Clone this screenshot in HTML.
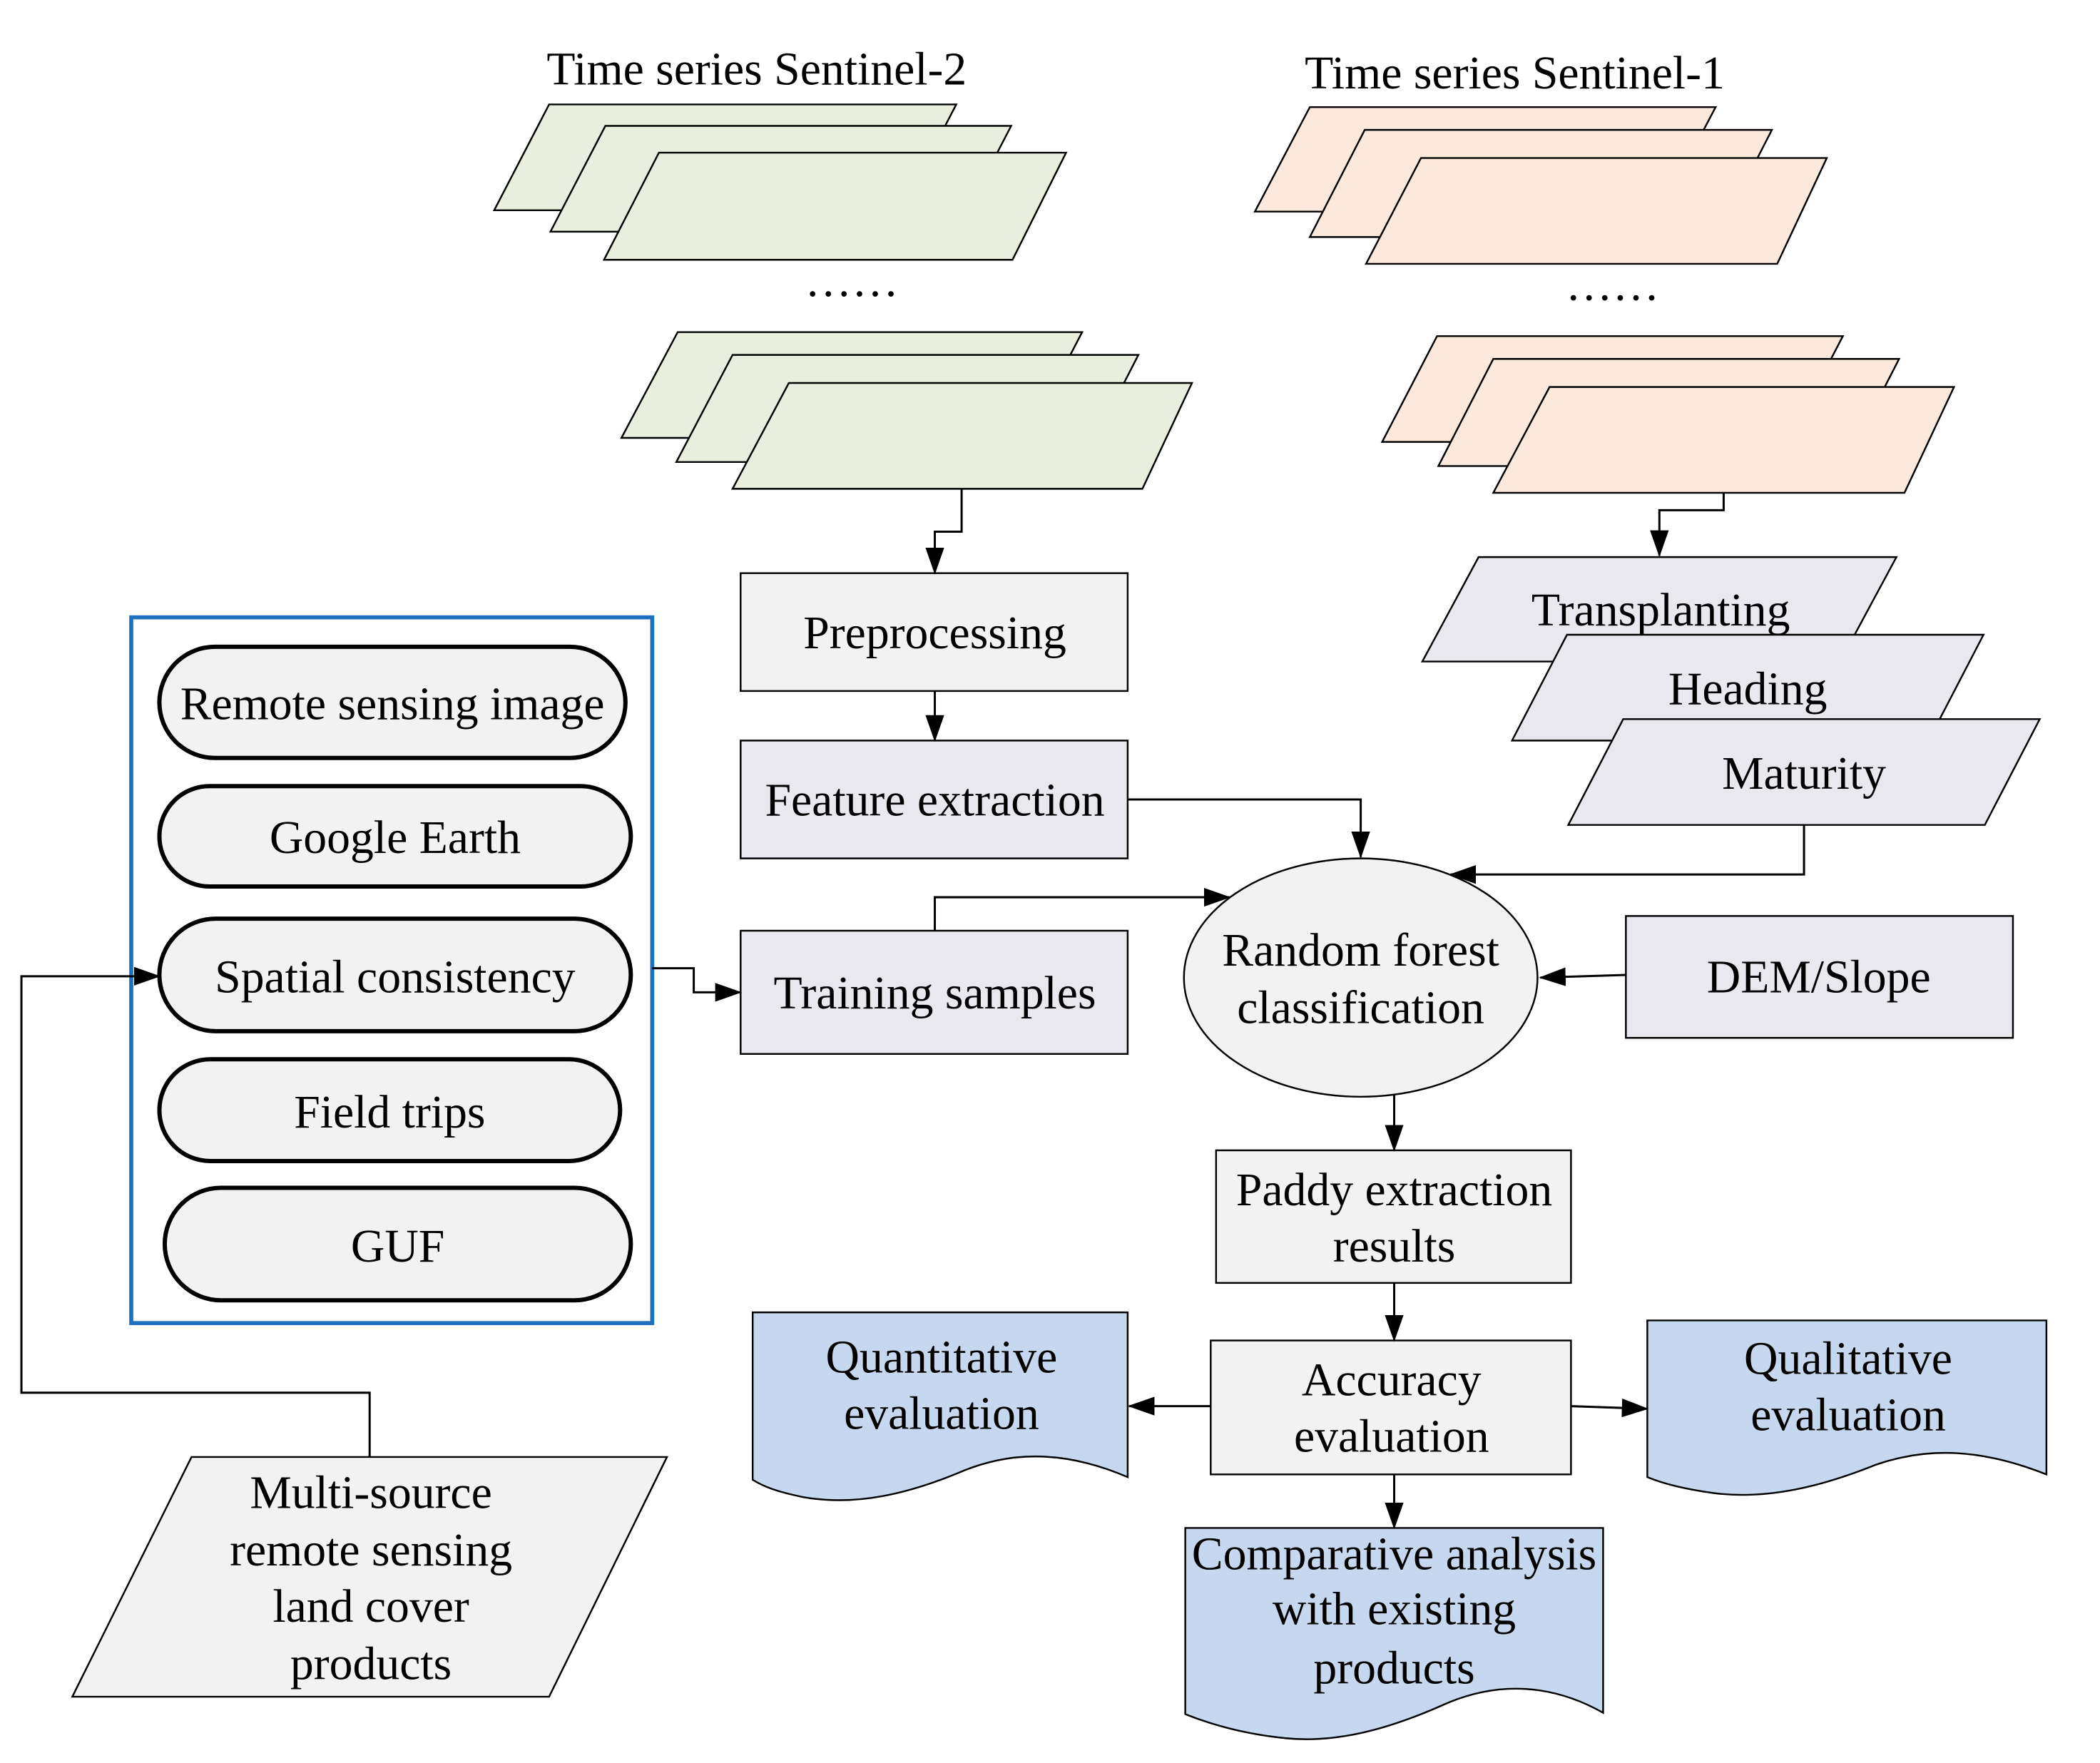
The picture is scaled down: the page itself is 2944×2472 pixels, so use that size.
<!DOCTYPE html>
<html><head><meta charset="utf-8"><style>html,body{margin:0;padding:0;background:#fff}svg{display:block}</style></head>
<body>
<svg width="2944" height="2472" viewBox="0 0 1568 1316.5" preserveAspectRatio="none" xmlns="http://www.w3.org/2000/svg" font-family="Liberation Serif, serif" font-size="35" text-anchor="middle">
<defs>
<marker id="a" markerWidth="20" markerHeight="14" refX="19" refY="7" orient="auto" markerUnits="userSpaceOnUse"><path d="M0,0 L20,7 L0,14 Z" fill="#000"/></marker>
</defs>
<g stroke="#000" stroke-width="1.3">
<polygon points="410,78 714,78 673,157 369,157" fill="#e9efdf"/>
<polygon points="452,94 755,94 714,173 411,173" fill="#e9efdf"/>
<polygon points="492,114 796,114 756,194 451,194" fill="#e9efdf"/>
<polygon points="506,248 808,248 767,327 464,327" fill="#e9efdf"/>
<polygon points="547,265 850,265 809,345 505,345" fill="#e9efdf"/>
<polygon points="589,286 890,286 853,365 547,365" fill="#e9efdf"/>
<polygon points="978,80 1281,80 1240,158 937,158" fill="#fce9dc"/>
<polygon points="1019,97 1323,97 1282,177 978,177" fill="#fce9dc"/>
<polygon points="1061,118 1364,118 1327,197 1020,197" fill="#fce9dc"/>
<polygon points="1073,251 1376,251 1335,330 1032,330" fill="#fce9dc"/>
<polygon points="1115,268 1418,268 1377,348 1074,348" fill="#fce9dc"/>
<polygon points="1157,289 1459,289 1422,368 1115,368" fill="#fce9dc"/>
<polygon points="1104,416 1416,416 1374,494 1062,494" fill="#eae8ef"/>
<polygon points="1170,474 1481,474 1440,553 1129,553" fill="#eae8ef"/>
<polygon points="1212,537 1523,537 1482,616 1171,616" fill="#eae8ef"/>
<rect x="553" y="428" width="289" height="88" fill="#f2f2f2"/>
<rect x="553" y="553" width="289" height="88" fill="#eae8ef"/>
<rect x="553" y="695" width="289" height="92" fill="#eae8ef"/>
<rect x="1214" y="684" width="289" height="91" fill="#eae8ef"/>
<ellipse cx="1016" cy="730" rx="132" ry="89" fill="#f2f2f2"/>
<rect x="908" y="859" width="265" height="99" fill="#f2f2f2"/>
<rect x="904" y="1001" width="269" height="100" fill="#f2f2f2"/>
<path d="M562,980 L842,980 L842,1103 C800,1085 760,1082 720,1098 C680,1115 640,1125 600,1118 C580,1114 570,1110 562,1105 Z" fill="#c5d8ef"/>
<path d="M1230,986 L1528,986 L1528,1101 C1480,1082 1440,1080 1400,1094 C1360,1110 1320,1120 1280,1115 C1258,1112 1242,1108 1230,1103 Z" fill="#c5d8ef"/>
<path d="M885,1141 L1197,1141 L1197,1279 C1160,1258 1120,1255 1080,1272 C1040,1290 1000,1302 960,1298 C930,1295 905,1288 885,1280 Z" fill="#c5d8ef"/>
<polygon points="143,1088 498,1088 410,1267 54,1267" fill="#f2f2f2"/>
</g>
<rect x="98" y="461" width="389" height="527" fill="none" stroke="#1f6fbf" stroke-width="3"/>
<g stroke="#000" stroke-width="3.2" fill="#f2f2f2">
<rect x="119" y="483" width="348" height="83" rx="41.5"/>
<rect x="119" y="587" width="352" height="75" rx="37.5"/>
<rect x="119" y="686" width="352" height="84" rx="42"/>
<rect x="119" y="791" width="344" height="76" rx="38"/>
<rect x="123" y="887" width="348" height="84" rx="42"/>
</g>
<g stroke="#000" stroke-width="1.6" fill="none">
<polyline points="718,365 718,397 698,397 698,428" marker-end="url(#a)"/>
<polyline points="698,516 698,553" marker-end="url(#a)"/>
<polyline points="842,597 1016,597 1016,640" marker-end="url(#a)"/>
<polyline points="698,695 698,670 918,670" marker-end="url(#a)"/>
<polyline points="1287,368 1287,381 1239,381 1239,415" marker-end="url(#a)"/>
<polyline points="1347,616 1347,653 1083,653" marker-end="url(#a)"/>
<polyline points="1214,728 1150,730" marker-end="url(#a)"/>
<polyline points="1041,818 1041,859" marker-end="url(#a)"/>
<polyline points="1041,958 1041,1001" marker-end="url(#a)"/>
<polyline points="904,1050 843,1050" marker-end="url(#a)"/>
<polyline points="1173,1050 1230,1052" marker-end="url(#a)"/>
<polyline points="1041,1101 1041,1141" marker-end="url(#a)"/>
<polyline points="487,723 518,723 518,741 553,741" marker-end="url(#a)"/>
<polyline points="276,1088 276,1040 16,1040 16,729 119,729" marker-end="url(#a)"/>
</g>
<g fill="#000">
<text x="565" y="63">Time series Sentinel-2</text>
<text x="1131" y="66">Time series Sentinel-1</text>
<text x="636" y="221">……</text>
<text x="1204" y="224">……</text>
<text x="698" y="484">Preprocessing</text>
<text x="698" y="609">Feature extraction</text>
<text x="698" y="753">Training samples</text>
<text x="1016" y="721">Random forest</text>
<text x="1016" y="764">classification</text>
<text x="1358" y="741">DEM/Slope</text>
<text x="1240" y="467">Transplanting</text>
<text x="1305" y="526">Heading</text>
<text x="1347" y="589">Maturity</text>
<text x="1041" y="900">Paddy extraction</text>
<text x="1041" y="942">results</text>
<text x="1039" y="1042">Accuracy</text>
<text x="1039" y="1084">evaluation</text>
<text x="703" y="1025">Quantitative</text>
<text x="703" y="1067">evaluation</text>
<text x="1380" y="1026">Qualitative</text>
<text x="1380" y="1068">evaluation</text>
<text x="1041" y="1172">Comparative analysis</text>
<text x="1041" y="1213">with existing</text>
<text x="1041" y="1257">products</text>
<text x="293" y="537">Remote sensing image</text>
<text x="295" y="637">Google Earth</text>
<text x="295" y="741">Spatial consistency</text>
<text x="291" y="842">Field trips</text>
<text x="297" y="942">GUF</text>
<text x="277" y="1126">Multi-source</text>
<text x="277" y="1169">remote sensing</text>
<text x="277" y="1211">land cover</text>
<text x="277" y="1254">products</text>
</g>
</svg>
</body></html>
